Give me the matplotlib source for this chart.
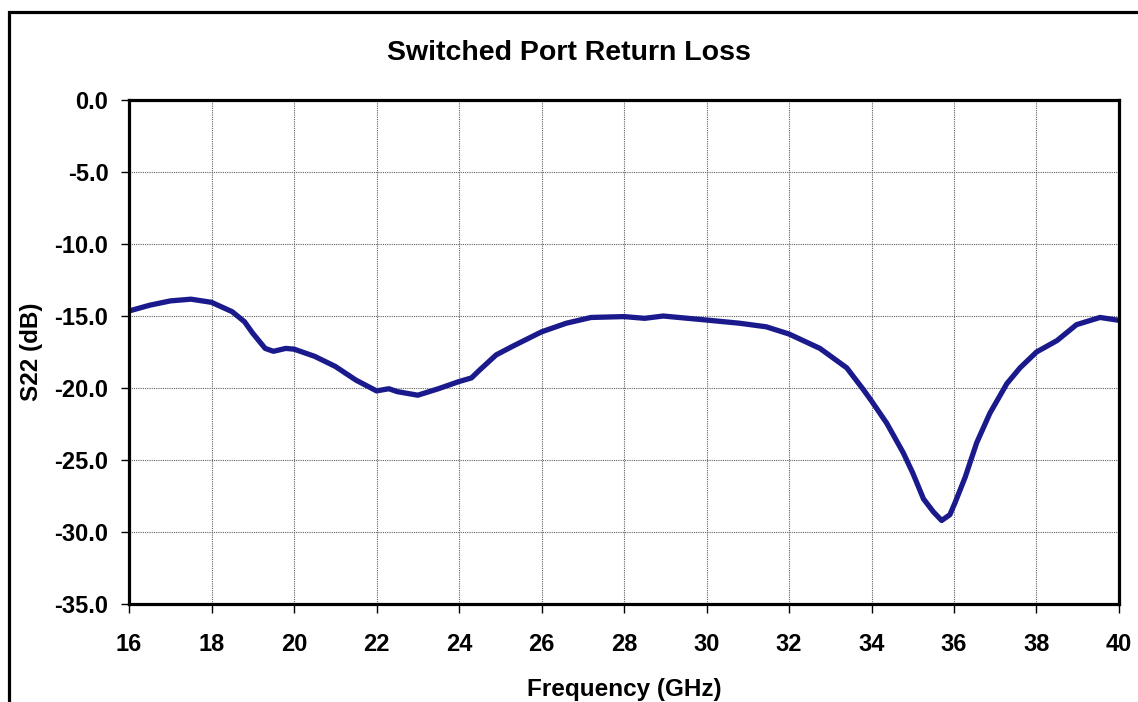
import matplotlib
matplotlib.use("Agg")
import matplotlib.pyplot as plt
from matplotlib.patches import Rectangle

plt.rcParams['font.family'] = ['Liberation Sans', 'DejaVu Sans']
plt.rcParams['font.weight'] = 'bold'

# S22
freq_ghz = [16.0, 16.5, 17.0, 17.5, 18.0, 18.5, 18.8, 19.0, 19.3, 19.5, 19.8, 20.0,
            20.5, 21.0, 21.5, 22.0, 22.3, 22.5, 23.0, 23.5, 24.0, 24.3, 24.5, 24.9,
            25.3, 26.0, 26.6, 27.2, 28.0, 28.5, 28.95, 30.0, 30.8, 31.45, 32.0, 32.75,
            33.4, 33.8, 34.0, 34.37, 34.77, 35.0, 35.26, 35.5, 35.7, 35.9, 36.02, 36.27,
            36.55, 36.87, 37.28, 37.6, 38.0, 38.5, 38.97, 39.54, 40.0]
s22_db = [-14.65, -14.25, -13.95, -13.83, -14.05, -14.7, -15.4, -16.2, -17.25, -17.45, -17.25, -17.3,
          -17.8, -18.5, -19.45, -20.2, -20.05, -20.25, -20.5, -20.05, -19.55, -19.3, -18.75, -17.7,
          -17.1, -16.1, -15.5, -15.1, -15.04, -15.16, -15.0, -15.28, -15.5, -15.75, -16.25, -17.25,
          -18.6, -20.1, -20.9, -22.45, -24.5, -25.9, -27.7, -28.6, -29.2, -28.8, -28.0, -26.2,
          -23.8, -21.75, -19.7, -18.6, -17.5, -16.7, -15.6, -15.1, -15.3]

x_ticks = list(range(16, 41, 2))
y_ticks = [0, -5, -10, -15, -20, -25, -30, -35]

fig = plt.figure(figsize=(11.38, 7.02), dpi=100)
ax = fig.add_axes([0.1134, 0.1396, 0.8699, 0.7179])

# outer chart border (runs off the right and bottom edge)
fig.patches.append(Rectangle((0.0075, -0.1), 1.2, 0.983 + 0.1, transform=fig.transFigure,
                             fill=False, edgecolor='black', linewidth=2.3))

ax.plot(freq_ghz, s22_db, color='#1a1a8c', linewidth=3.8, solid_capstyle='round')

ax.set_xlim(16, 40)
ax.set_ylim(-35, 0)
ax.set_xticks(x_ticks)
ax.set_yticks(y_ticks)
ax.set_yticklabels([f"{v:.1f}" for v in y_ticks])
ax.tick_params(axis='both', labelsize=17, width=1, direction='out')
ax.tick_params(axis='x', length=6.5, pad=14.5)
ax.tick_params(axis='y', length=5.8, pad=9)

ax.grid(True, color='#606060', linestyle=(0, (1, 1)), linewidth=0.8)
ax.set_axisbelow(True)
for sp in ax.spines.values():
    sp.set_linewidth(2.3)
    sp.set_color('black')

ax.set_xlabel("Frequency (GHz)", fontsize=17.5, fontweight='bold', labelpad=16)
ax.set_ylabel("S22 (dB)", fontsize=17.5, fontweight='bold', labelpad=8)
fig.text(0.5, 1 - 53 / 702, "Switched Port Return Loss", ha='center', va='center',
         fontsize=20.5, fontweight='bold')

fig.savefig("out.png", dpi=100)
